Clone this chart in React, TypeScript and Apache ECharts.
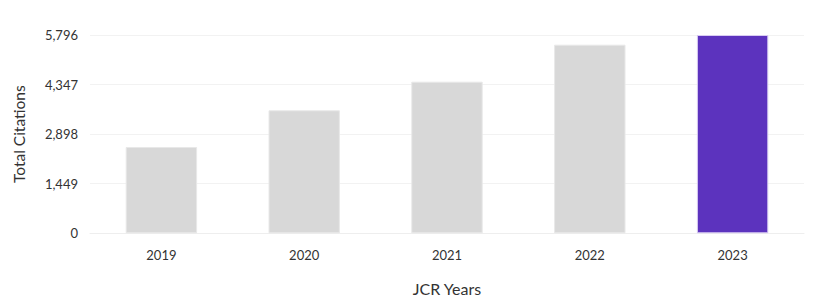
import React, { useEffect, useRef } from "react";
import * as echarts from "echarts";

const years = ["2019", "2020", "2021", "2022", "2023"];
const citations = [2522, 3595, 4431, 5513, 5796];
const yTicks = [0, 1449, 2898, 4347, 5796];

export default function App() {
  const ref = useRef<HTMLDivElement>(null);
  useEffect(() => {
    const chart = echarts.init(ref.current!, null, { renderer: "svg" });
    const last = years.length - 1;
    chart.setOption({
      animation: false,
      textStyle: { fontFamily: "Lato, 'Noto Sans', sans-serif" },
      grid: { left: 90, right: 24, top: 35, bottom: 70.7, outerBoundsMode: "none", containLabel: false },
      xAxis: {
        type: "category",
        data: years,
        name: "JCR Years",
        nameLocation: "middle",
        nameGap: 47,
        nameTextStyle: { fontSize: 16, color: "#333" },
        axisLine: { show: true, lineStyle: { color: "#eeeeee" } },
        axisTick: { show: false },
        axisLabel: { color: "#333", fontSize: 13, margin: 15 },
      },
      yAxis: {
        type: "value",
        min: 0,
        max: yTicks[yTicks.length - 1],
        interval: yTicks[1],
        name: "Total Citations",
        nameLocation: "middle",
        nameGap: 63,
        nameTextStyle: { fontSize: 15.5, color: "#333" },
        axisLine: { show: false },
        axisTick: { show: false },
        axisLabel: {
          color: "#333",
          fontSize: 13,
          margin: 12,
          formatter: (v: number) => v.toLocaleString("en-US"),
        },
        splitLine: { lineStyle: { color: "#f2f2f2" } },
      },
      series: [
        {
          type: "bar",
          barWidth: "50%",
          data: citations.map((v, i) => ({
            value: v,
            itemStyle:
              i === last
                ? { color: "#5c33be", borderColor: "#d8ccf2", borderWidth: 1 }
                : { color: "#d8d8d8", borderColor: "#e8e8e8", borderWidth: 1 },
          })),
        },
      ],
    });
    return () => chart.dispose();
  }, []);
  return <div ref={ref} style={{ width: 828, height: 304, marginLeft: -8, marginTop: -8 }} />;
}
